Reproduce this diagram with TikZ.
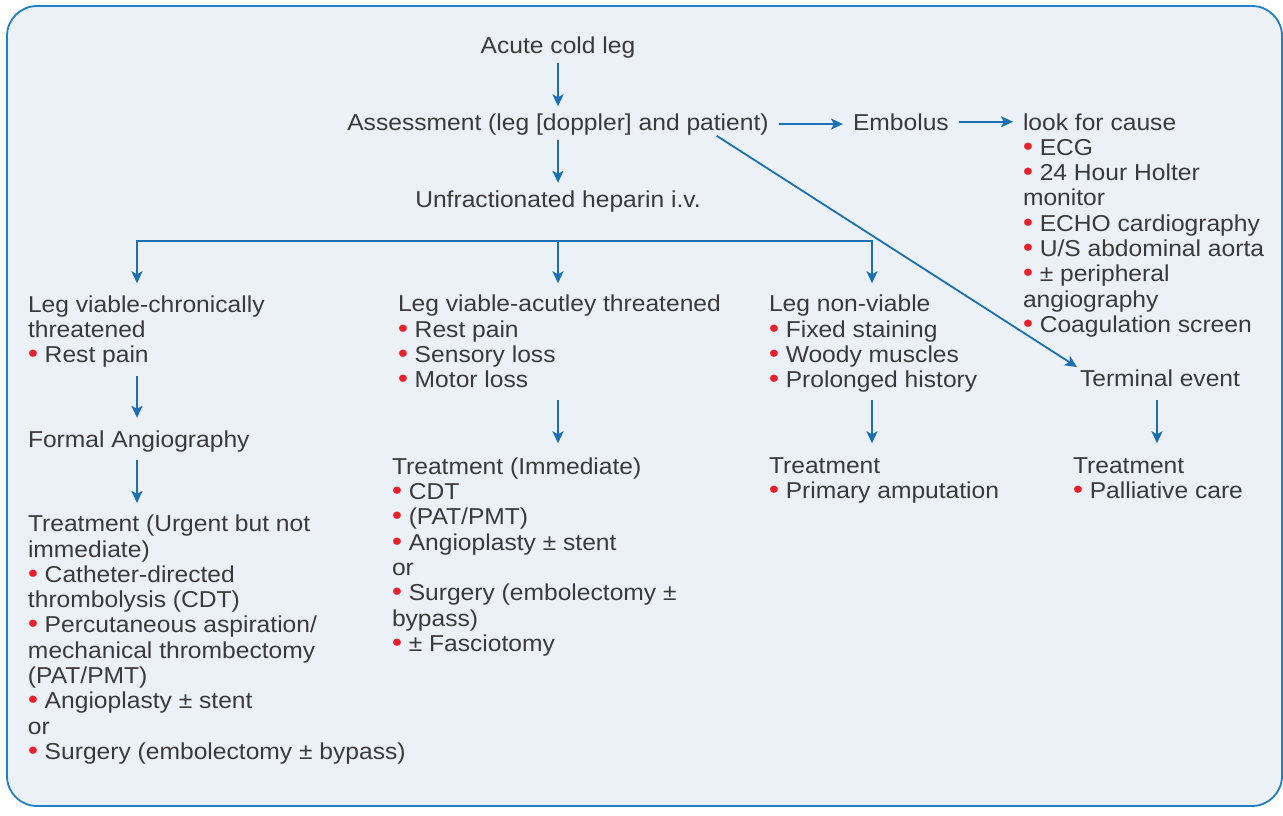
\documentclass[tikz,border=0pt]{standalone}
\usepackage{fontspec}
\setmainfont[FakeStretch=1.07]{Liberation Sans}
\usetikzlibrary{arrows.meta,calc}

\definecolor{panelfill}{HTML}{ECF1F8}
\definecolor{panelline}{HTML}{1F7FCA}
\definecolor{flowblue}{HTML}{1A6FB5}
\definecolor{bulred}{HTML}{E8202A}
\definecolor{ink}{HTML}{3A3A3A}

\newcommand\bul{\textcolor{bulred}{\scalebox{1.15}{•}}\ }

\tikzset{
  txt/.style={inner sep=0pt, outer sep=0pt, text=ink,
    font=\fontsize{23}{25.3}\selectfont},
  block/.style={txt, anchor=north west, align=left},
  arr/.style={draw=flowblue, line width=1.8pt,
    -{Stealth[length=12pt,width=11pt,inset=3pt]}},
  frame/.style={draw=panelline, fill=panelfill, line width=1.8pt,
    rounded corners=30pt}
}

\begin{document}
\begin{tikzpicture}[x=1pt,y=-1pt]
\useasboundingbox (0,0) rectangle (1283,815);

% panel
\path[frame] (7,6) rectangle (1282,806);

% top of the chart
\node[txt, anchor=base] (acute) at (558,53) {Acute cold leg};
\node[txt, anchor=base] (assess) at (558,130) {Assessment (leg [doppler] and patient)};
\node[txt, anchor=base] (hep) at (558,207) {Unfractionated heparin i.v.};
\node[txt, anchor=base west] (emb) at (853,130) {Embolus};
\node[block] (cause) at (1023,112.3) {\strut look for cause\\
  \bul ECG\\
  \bul 24 Hour Holter\\
  monitor\\
  \bul ECHO cardiography\\
  \bul U/S abdominal aorta\\
  \bul ± peripheral\\
  angiography\\
  \bul Coagulation screen};

% branch points of the distribution bar
\coordinate (barL) at (137,241);
\coordinate (barM) at (558,241);
\coordinate (barR) at (872,241);

% column 1
\node[block] (chron) at (28,294.3) {\strut Leg viable-chronically\\
  threatened\\
  \bul Rest pain};
\node[txt, anchor=base west] (formal) at (28,447) {Formal Angiography};
\node[block] (treat1) at (28,514) {\strut Treatment (Urgent but not\\
  immediate)\\
  \bul Catheter-directed\\
  thrombolysis (CDT)\\
  \bul Percutaneous aspiration/\\
  mechanical thrombectomy\\
  (PAT/PMT)\\
  \bul Angioplasty ± stent\\
  or\\
  \bul Surgery (embolectomy ± bypass)};

% column 2
\node[block] (threat) at (398,294) {\strut Leg viable-acutley threatened\\
  \bul Rest pain\\
  \bul Sensory loss\\
  \bul Motor loss};
\node[block] (treat2) at (392,456.6) {\strut Treatment (Immediate)\\
  \bul CDT\\
  \bul (PAT/PMT)\\
  \bul Angioplasty ± stent\\
  or\\
  \bul Surgery (embolectomy ±\\
  bypass)\\
  \bul ± Fasciotomy};

% column 3
\node[block] (nonv) at (769,294) {\strut Leg non-viable\\
  \bul Fixed staining\\
  \bul Woody muscles\\
  \bul Prolonged history};
\node[block] (treat3) at (769,455.6) {\strut Treatment\\
  \bul Primary amputation};

% column 4
\node[txt, anchor=base west] (term) at (1080,386.7) {Terminal event};
\node[block] (treat4) at (1073,455.6) {\strut Treatment\\
  \bul Palliative care};

% connectors
\draw[arr, shorten <=5pt, shorten >=7pt] (acute.south) -- (assess.north);
\draw[arr, shorten <=5pt, shorten >=7.5pt] (assess.south) -- (hep.north);
\draw[arr, shorten <=10pt, shorten >=10pt] (assess.east) -- (assess.east -| emb.west);
\draw[arr, shorten <=10pt, shorten >=10pt] (emb.east) -- (emb.east -| cause.west);
\draw[arr] ([xshift=-52pt,yshift=-1pt]assess.south east) -- ([xshift=-3pt,yshift=3pt]term.north west);

\draw[arr, shorten >=11pt] (barM) -| (chron.north -| barL);
\draw[arr, shorten >=10.7pt] (barM) -| (nonv.north -| barR);
\draw[arr, shorten >=10.7pt] (barM) -- (threat.north -| barM);

\draw[arr, shorten <=9pt, shorten >=12.5pt] (chron.south -| barL) -- (formal.north -| barL);
\draw[arr, shorten <=8pt, shorten >=11pt] (formal.south -| barL) -- (treat1.north -| barL);
\draw[arr, shorten <=12.4pt, shorten >=13.3pt] (threat.south -| barM) -- (treat2.north -| barM);
\draw[arr, shorten <=7.6pt, shorten >=12.3pt] (nonv.south -| barR) -- (treat3.north -| barR);
\coordinate (colT) at (1157,0);
\draw[arr, shorten <=13.3pt, shorten >=12.3pt] (term.south -| colT) -- (treat4.north -| colT);
\end{tikzpicture}
\end{document}
